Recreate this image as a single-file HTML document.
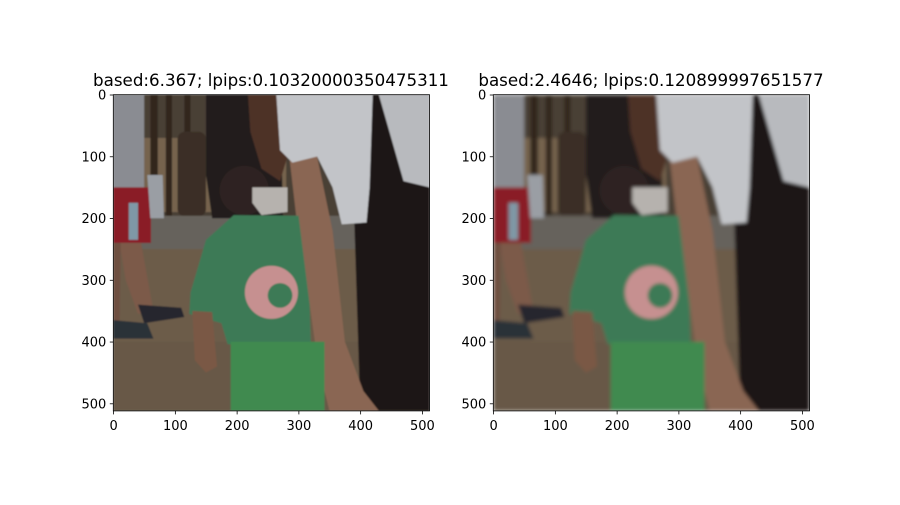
<!DOCTYPE html>
<html><head><meta charset="utf-8"><style>
body{margin:0;background:#fff;width:900px;height:500px;overflow:hidden}
svg text{font-family:"DejaVu Sans","Liberation Sans",sans-serif}
</style></head><body>
<svg id="fig" width="900" height="500" viewBox="0 0 900 500" xmlns="http://www.w3.org/2000/svg">
<defs>
<filter id="blur" x="0" y="0" width="1" height="1"><feGaussianBlur stdDeviation="3"/></filter>
<filter id="blur2" x="0" y="0" width="1" height="1"><feGaussianBlur stdDeviation="1.2"/></filter>
<clipPath id="clip"><rect x="0" y="0" width="512" height="512"/></clipPath>
<g id="photo" clip-path="url(#clip)">
<rect width="512" height="512" fill="#5a4e42"/>
<rect y="0" width="512" height="200" fill="#4a4036"/>
<rect x="40" y="70" width="240" height="120" fill="#76634e"/>
<rect x="60" y="0" width="12" height="200" fill="#30281f"/>
<rect x="85" y="0" width="10" height="200" fill="#30281f"/>
<rect x="115" y="0" width="10" height="70" fill="#30281f"/>
<rect x="104" y="60" width="46" height="137" rx="12" fill="#3a2e26"/>
<rect y="196" width="512" height="60" fill="#66625c"/>
<rect y="250" width="512" height="262" fill="#6c5c4a"/>
<rect y="400" width="512" height="112" fill="#675847"/>
<rect x="0" y="0" width="50" height="160" fill="#8a8c92"/>
<rect x="0" y="150" width="61" height="90" fill="#8a1a28"/>
<rect x="25" y="175" width="15" height="60" fill="#7f98a6"/>
<polygon points="10,240 45,240 65,350 40,355 20,300" fill="#7b5a48"/>
<polygon points="0,240 12,240 10,380 0,380" fill="#6e5040"/>
<polygon points="40,340 110,345 115,360 50,370" fill="#25272e"/>
<polygon points="0,365 55,370 65,395 0,395" fill="#2c3038"/>
<polygon points="55,130 80,130 82,200 60,200" fill="#9a9ea4"/>
<polygon points="150,0 270,0 275,200 160,200 150,130" fill="#221d1c"/>
<polygon points="218,0 265,0 282,100 270,140 240,120 222,60" fill="#4e3226"/>
<polygon points="368,0 512,0 512,512 400,512 390,200 370,120" fill="#1d1719"/>
<polygon points="285,100 330,100 355,220 375,400 405,480 430,512 350,512 332,440 318,340 300,230" fill="#8a6652"/>
<polygon points="264,0 420,0 415,150 410,207 370,210 355,150 330,100 290,110 270,90" fill="#c2c4c8"/>
<polygon points="430,0 512,0 512,150 470,140" fill="#b8babe"/>
<ellipse cx="212" cy="155" rx="40" ry="40" fill="#2e2420"/>
<polygon points="225,150 282,150 282,190 240,195 225,175" fill="#b6b2ae"/>
<polygon points="195,195 300,196 318,340 320,404 185,404 175,370 123,355 125,320 150,235" fill="#3d7a56"/>
<circle cx="256" cy="320" r="43" fill="#c69090"/>
<circle cx="270" cy="325" r="20" fill="#3d7a56"/>
<rect x="190" y="400" width="152" height="112" fill="#3f8a50"/>
<polygon points="128,350 160,352 168,440 150,450 132,430" fill="#7a5844"/>
</g>
</defs>
<g>
<text x="271" y="86" font-size="16.7" text-anchor="middle" fill="#000">based:6.367; lpips:0.10320000350475311</text>
<use href="#photo" transform="translate(113.3,94.7) scale(0.6176)" filter="url(#blur2)"/>
<g class="axes" data-ox="113.3"></g>
</g>
<g>
<text x="651" y="86" font-size="16.7" text-anchor="middle" fill="#000">based:2.4646; lpips:0.120899997651577</text>
<use href="#photo" transform="translate(493.3,94.7) scale(0.6176)" filter="url(#blur)"/>
<g class="axes" data-ox="493.3"></g>
</g>
</svg>
<script>
const xTicks=[0,100,200,300,400,500];
const yTicks=[0,100,200,300,400,500];
const imgSize=512;
const NS="http://www.w3.org/2000/svg";
const top0=94.7, side=316.2;
function sx(ox,v){return ox+0.5*side/imgSize+v*side/imgSize;}
function sy(v){return top0+0.5*side/imgSize+v*side/imgSize;}
document.querySelectorAll('g.axes').forEach((g,gi)=>{
  const ox=parseFloat(g.getAttribute('data-ox'));
  const fr=document.createElementNS(NS,'rect');
  fr.setAttribute('x',ox);fr.setAttribute('y',top0);fr.setAttribute('width',side);fr.setAttribute('height',side);
  fr.setAttribute('fill','none');fr.setAttribute('stroke','#000');fr.setAttribute('stroke-width','0.8');
  
  
  g.appendChild(fr);
  xTicks.forEach(t=>{
    const x=sx(ox,t);
    const l=document.createElementNS(NS,'line');
    l.setAttribute('x1',x);l.setAttribute('x2',x);l.setAttribute('y1',top0+side);l.setAttribute('y2',top0+side+3.5);
    l.setAttribute('stroke','#000');l.setAttribute('stroke-width','0.8');
    
    
    g.appendChild(l);
    const tx=document.createElementNS(NS,'text');
    tx.setAttribute('x',x);tx.setAttribute('y',top0+side+19);tx.setAttribute('font-size','13');tx.setAttribute('text-anchor','middle');
    tx.textContent=t;
    
    
    g.appendChild(tx);
  });
  yTicks.forEach(t=>{
    const y=sy(t);
    const l=document.createElementNS(NS,'line');
    l.setAttribute('x1',ox-3.5);l.setAttribute('x2',ox);l.setAttribute('y1',y);l.setAttribute('y2',y);
    l.setAttribute('stroke','#000');l.setAttribute('stroke-width','0.8');
    
    
    g.appendChild(l);
    const tx=document.createElementNS(NS,'text');
    tx.setAttribute('x',ox-7);tx.setAttribute('y',y+4.5);tx.setAttribute('font-size','13');tx.setAttribute('text-anchor','end');
    tx.textContent=t;
    
    
    g.appendChild(tx);
  });
});
</script>
</body></html>
